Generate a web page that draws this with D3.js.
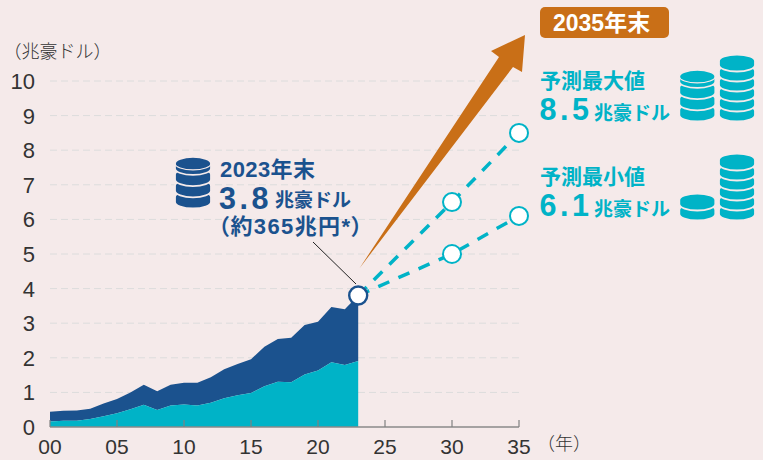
<!DOCTYPE html>
<html><head><meta charset="utf-8">
<script src="https://cdn.jsdelivr.net/npm/d3@7"></script>
<style>
html,body{margin:0;padding:0;background:#f5eaea}
svg{display:block}
text{font-family:"Liberation Sans","Noto Sans CJK JP",sans-serif}
</style></head><body><svg id="c" width="763" height="460"></svg>
<script>
const years=d3.range(2000,2024);
const inner=[.16,.18,.18,.23,.31,.40,.51,.64,.49,.62,.65,.62,.70,.83,.92,.98,1.18,1.31,1.29,1.52,1.63,1.87,1.79,1.91];
const total=[.44,.47,.48,.53,.68,.81,1.0,1.22,1.03,1.22,1.28,1.28,1.44,1.67,1.82,1.96,2.32,2.54,2.58,2.95,3.04,3.47,3.40,3.80];
const yTicks=[0,1,2,3,4,5,6,7,8,9,10];
const xTicks=[2000,2005,2010,2015,2020,2025,2030,2035];
const start=[2023,3.8];
const maxPath=[[2023,3.8],[2030,6.5],[2035,8.5]];
const minPath=[[2023,3.8],[2030,5.0],[2035,6.1]];
const maxMarkers=[[2030,6.5],[2035,8.5]];
const minMarkers=[[2030,5.0],[2035,6.1]];
const arrowTail=[2023.1,4.59];

const BLUE="#1b528e",TEAL="#00b3c7",ORANGE="#c96f17",BG="#f5eaea",INK="#333333";
const svg=d3.select("#c");
svg.append("rect").attr("width",763).attr("height",460).attr("fill",BG);
const x=d3.scaleLinear().domain([2000,2035]).range([50,519]);
const y=d3.scaleLinear().domain([0,10]).range([427,81]);

svg.append("g").selectAll("line").data(yTicks.slice(1)).join("line")
 .attr("x1",50).attr("x2",519).attr("y1",d=>y(d)).attr("y2",d=>y(d))
 .attr("stroke","#dcdcdc").attr("stroke-width",1).attr("stroke-dasharray","7 4");

const area=(arr,base)=>d3.area().x((d,i)=>x(years[i])).y1(d=>y(d)).y0((d,i)=>y(base?base[i]:0))(arr);
svg.append("path").attr("d",area(total,inner)).attr("fill",BLUE);
svg.append("path").attr("d",area(inner)).attr("fill",TEAL);

svg.append("line").attr("x1",50).attr("x2",519).attr("y1",y(0)).attr("y2",y(0)).attr("stroke","#8a8a8a").attr("stroke-width",1.5);
svg.append("g").selectAll("line").data(xTicks).join("line")
 .attr("x1",d=>x(d)).attr("x2",d=>x(d)).attr("y1",y(0)).attr("y2",y(0)-7).attr("stroke","#808080").attr("stroke-width",1.2);

svg.append("g").selectAll("text").data(yTicks).join("text")
 .attr("x",35).attr("y",d=>y(d)+8).attr("text-anchor","end").attr("font-size",22).attr("fill",INK).text(d=>d);
svg.append("g").selectAll("text").data(xTicks).join("text")
 .attr("x",d=>x(d)).attr("y",454).attr("text-anchor","middle").attr("font-size",21).attr("fill",INK).text(d=>String(d%100).padStart(2,"0"));
svg.append("text").attr("x",3.5).attr("y",58).attr("font-size",18).attr("fill",INK).attr("font-weight",300).text("（兆豪ドル）");
svg.append("text").attr("x",537).attr("y",450).attr("font-size",18).attr("fill",INK).attr("font-weight",300).text("（年）");

// orange arrow
const tail=[x(arrowTail[0]),y(arrowTail[1])];
svg.append("path").attr("fill",ORANGE)
 .attr("d",`M${tail}L499,57L491,51L525,35L522,72L513,67Z`);

// dashed projections
const line=d3.line().x(d=>x(d[0])).y(d=>y(d[1]));
[maxPath,minPath].forEach(p=>svg.append("path").attr("d",line(p)).attr("fill","none")
 .attr("stroke",TEAL).attr("stroke-width",3.5).attr("stroke-dasharray","12 10"));
svg.append("g").selectAll("circle").data(maxMarkers.concat(minMarkers)).join("circle")
 .attr("cx",d=>x(d[0])).attr("cy",d=>y(d[1])).attr("r",9).attr("fill","#fff").attr("stroke",TEAL).attr("stroke-width",2);

// leader
svg.append("line").attr("x1",313).attr("y1",242).attr("x2",356).attr("y2",284).attr("stroke","#222").attr("stroke-width",1);
svg.append("circle").attr("cx",x(start[0])).attr("cy",y(start[1])).attr("r",9).attr("fill","#fff").attr("stroke",BLUE).attr("stroke-width",2.4);

// coin stacks
function stack(cx,bottom,n,fill,step,h,crescent){
  const w=18,ry=6.5,g=svg.append("g");
  d3.range(n).forEach(i=>{
    const cy=bottom-ry-h-i*step;
    g.append("path").attr("fill",fill).attr("stroke",BG).attr("stroke-width",1.8)
     .attr("d",`M${cx-w},${cy}A${w},${ry} 0 0 1 ${cx+w},${cy}V${cy+h}A${w},${ry} 0 0 1 ${cx-w},${cy+h}Z`);
    if(crescent&&i===n-1)
      g.append("path").attr("fill","none").attr("stroke",BG).attr("stroke-width",1.2)
       .attr("d",`M${cx-w},${cy}A${w},${ry} 0 0 0 ${cx+w},${cy}`);
  });
}
stack(697.3,121.5,4,TEAL,11.2,5,true);
stack(737,121.5,6,TEAL,10,4,false);
stack(697.3,220.5,2,TEAL,10,4,false);
stack(737,220.5,6,TEAL,10,4,false);
stack(193,208.5,4,BLUE,11.2,5,true);

// labels
const label=(tx,ty,size,fill,s,ls=0)=>svg.append("text").attr("x",tx).attr("y",ty).attr("font-size",size).attr("fill",fill).attr("font-weight",700).attr("letter-spacing",ls).text(s);
label(220,176.5,22,BLUE,"2023年末",.4);
label(219,209,30.5,BLUE,"3.8",3.5);
label(275,207,19,BLUE,"兆豪ドル");
label(218,234,22,BLUE,"（約365兆円*）",1.4).style("font-feature-settings",'"palt"');

svg.append("rect").attr("x",540).attr("y",7).attr("width",129).attr("height",31).attr("rx",5).attr("fill",ORANGE);
label(553,31,23,"#fff","2035年末");

label(540,87.5,21,TEAL,"予測最大値");
label(539.5,120,30.5,TEAL,"8.5",3.5);
label(594,120,19,TEAL,"兆豪ドル");
label(540,183.5,21,TEAL,"予測最小値");
label(539.5,216,30.5,TEAL,"6.1",3.5);
label(594,216,19,TEAL,"兆豪ドル");
</script></body></html>
